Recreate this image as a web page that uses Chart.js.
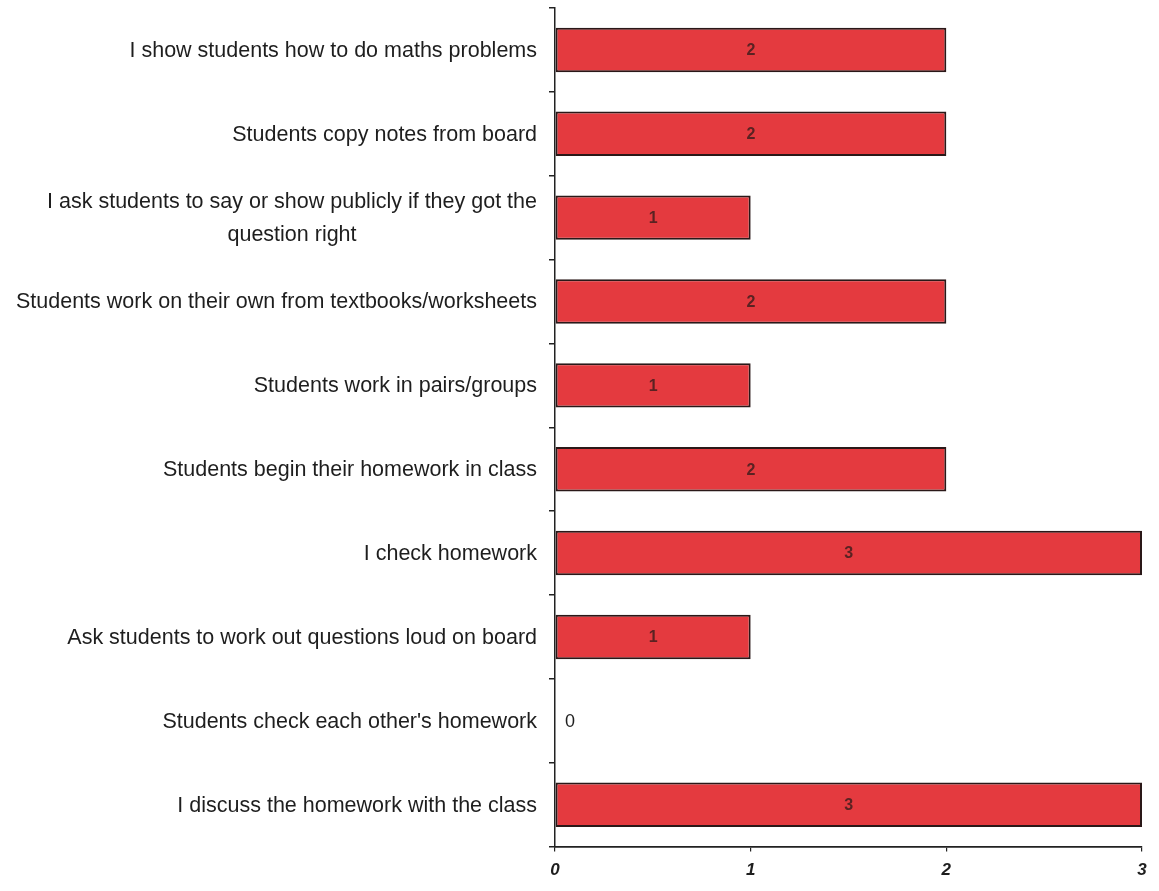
<!DOCTYPE html>
<html>
<head>
<meta charset="utf-8">
<title>Classroom practices</title>
<script src="https://cdn.jsdelivr.net/npm/chart.js@4/dist/chart.umd.min.js"></script>
<style>
  html, body { margin: 0; padding: 0; background: #fff; }
  #wrap { width: 1159px; height: 891px; position: relative; }
</style>
</head>
<body>
<div id="wrap"><canvas id="practiceChart"></canvas></div>
<script>
// ── data ──────────────────────────────────
const categories = [
  'I show students how to do maths problems',
  'Students copy notes from board',
  ['I ask students to say or show publicly if they got the', 'question right'],
  'Students work on their own from textbooks/worksheets',
  'Students work in pairs/groups',
  'Students begin their homework in class',
  'I check homework',
  'Ask students to work out questions loud on board',
  "Students check each other's homework",
  'I discuss the homework with the class'
];
const counts = [2, 2, 1, 2, 1, 2, 3, 1, 0, 3];
const xTicks = [0, 1, 2, 3];

const INK = '#1e1e1e';
const LABEL_FONT = '21.5px "Liberation Sans", Arial, sans-serif';

// category labels: right-aligned block, wrapped lines centred within it
const categoryLabels = {
  id: 'categoryLabels',
  afterDraw(chart) {
    const { ctx, chartArea, scales: { y } } = chart;
    const right = chartArea.left - 18;
    ctx.save();
    ctx.font = LABEL_FONT;
    ctx.fillStyle = INK;
    ctx.textBaseline = 'middle';
    ctx.textAlign = 'center';
    categories.forEach((label, i) => {
      const lines = Array.isArray(label) ? label : [label];
      const widest = Math.max(...lines.map(l => ctx.measureText(l).width));
      const cy = y.getPixelForValue(i);
      const lh = 33;
      lines.forEach((line, j) => {
        ctx.fillText(line, right - widest / 2, cy + (j - (lines.length - 1) / 2) * lh + 1);
      });
    });
    ctx.restore();
  }
};

// value printed in the middle of each bar, or beside the axis for zero
const barValues = {
  id: 'barValues',
  afterDatasetsDraw(chart) {
    const { ctx } = chart;
    const meta = chart.getDatasetMeta(0);
    ctx.save();
    ctx.textBaseline = 'middle';
    meta.data.forEach((bar, i) => {
      const v = counts[i];
      if (v > 0) {
        ctx.font = 'bold 16px "Liberation Sans", Arial, sans-serif';
        ctx.fillStyle = '#5a2222';
        ctx.textAlign = 'center';
        ctx.fillText(String(v), (bar.x + bar.base) / 2, bar.y + 1);
      } else {
        ctx.font = '18px "Liberation Sans", Arial, sans-serif';
        ctx.fillStyle = INK;
        ctx.textAlign = 'left';
        ctx.fillText(String(v), bar.base + 10, bar.y + 1);
      }
    });
    ctx.restore();
  }
};

new Chart(document.getElementById('practiceChart'), {
  type: 'bar',
  data: {
    labels: categories,
    datasets: [{
      data: counts,
      backgroundColor: '#e43a3f',
      borderColor: '#2a1818',
      borderWidth: 2,
      borderSkipped: false,
      categoryPercentage: 1,
      barPercentage: 0.53
    }]
  },
  options: {
    indexAxis: 'y',
    responsive: true,
    maintainAspectRatio: false,
    animation: false,
    layout: { padding: { top: 8, right: 17, bottom: 1, left: 0 } },
    plugins: {
      legend: { display: false },
      tooltip: { enabled: false }
    },
    scales: {
      y: {
        grid: {
          display: true,
          drawOnChartArea: false,
          drawTicks: true,
          tickLength: 6,
          offset: true,
          color: '#222',
          lineWidth: 1.5
        },
        border: { display: true, color: '#222', width: 1.5 },
        ticks: { display: false },
        afterFit(scale) { scale.width = 555; }
      },
      x: {
        min: 0,
        max: 3,
        grid: {
          drawOnChartArea: false,
          drawTicks: true,
          tickLength: 5,
          color: '#222',
          lineWidth: 1.2
        },
        border: { display: true, color: '#222', width: 1.8 },
        afterBuildTicks(scale) {
          scale.ticks = xTicks.map(v => ({ value: v }));
        },
        ticks: {
          padding: 9,
          color: INK,
          font: { family: '"Liberation Sans", Arial, sans-serif', size: 17, weight: 'bold', style: 'italic' }
        }
      }
    }
  },
  plugins: [categoryLabels, barValues]
});
</script>
</body>
</html>
